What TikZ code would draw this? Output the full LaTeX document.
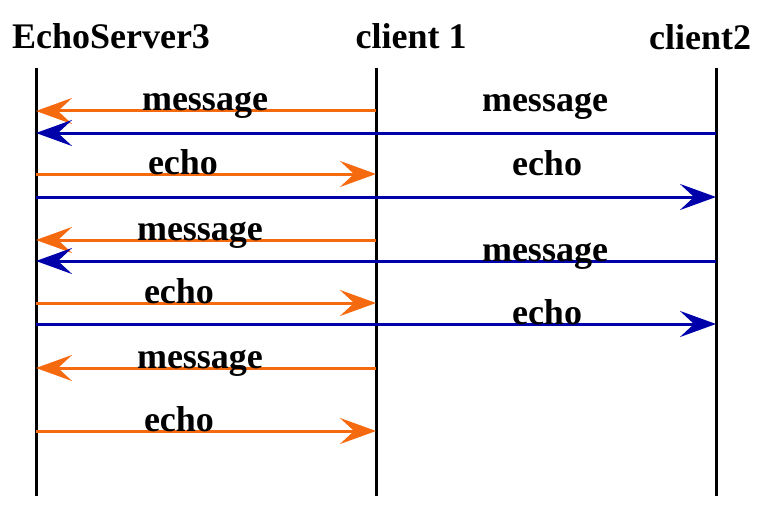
\documentclass[tikz,border=0pt]{standalone}
\usepackage{fontspec}
\setmainfont{Liberation Serif}
\usetikzlibrary{arrows.meta}
\definecolor{org}{RGB}{245,105,15}
\definecolor{blu}{RGB}{0,0,170}
\begin{document}
\begin{tikzpicture}[x=1pt,y=-1pt,
  lbl/.style={inner sep=0pt,anchor=base,font=\fontsize{36}{40}\selectfont\bfseries},
  life/.style={line width=3pt,black},
  msg/.style={line width=3pt,-{Stealth[length=36pt,width=26pt,inset=14pt]}},
  om/.style={msg,org},
  bm/.style={msg,blu}]
\useasboundingbox (0,0) rectangle (765,508);
% headings
\node[lbl] (hs) at (111,48.5) {EchoServer3};
\node[lbl] (h1) at (411,48.5) {client 1};
\node[lbl] (h2) at (700,50) {client2};
% lifelines
\coordinate (st) at (36,68);  \coordinate (sb) at (36,496);
\coordinate (at) at (376,68); \coordinate (ab) at (376,496);
\coordinate (bt) at (716,68); \coordinate (bb) at (716,496);
\draw[life] (st) -- (sb);
\draw[life] (at) -- (ab);
\draw[life] (bt) -- (bb);
% endpoints
\foreach \y [count=\i] in {111,133,174,197,240,261,303,324,368,431}{
  \coordinate (s\i) at (36,\y);
  \coordinate (a\i) at (376,\y);
  \coordinate (b\i) at (716,\y);
}
\draw[om] (a1) -- (s1);
\draw[bm] (b2) -- (s2);
\draw[om] (s3) -- (a3);
\draw[bm] (s4) -- (b4);
\draw[om] (a5) -- (s5);
\draw[bm] (b6) -- (s6);
\draw[om] (s7) -- (a7);
\draw[bm] (s8) -- (b8);
\draw[om] (a9) -- (s9);
\draw[om] (s10) -- (a10);
% labels
\node[lbl] (l1) at (205,111) {message};
\node[lbl] (l2) at (545,112) {message};
\node[lbl] (l3) at (183,174) {echo};
\node[lbl] (l4) at (547,175) {echo};
\node[lbl] (l5) at (200,240) {message};
\node[lbl] (l6) at (545,261) {message};
\node[lbl] (l7) at (179,303) {echo};
\node[lbl] (l8) at (547,324) {echo};
\node[lbl] (l9) at (200,368) {message};
\node[lbl] (l10) at (179,431) {echo};
\end{tikzpicture}
\end{document}
